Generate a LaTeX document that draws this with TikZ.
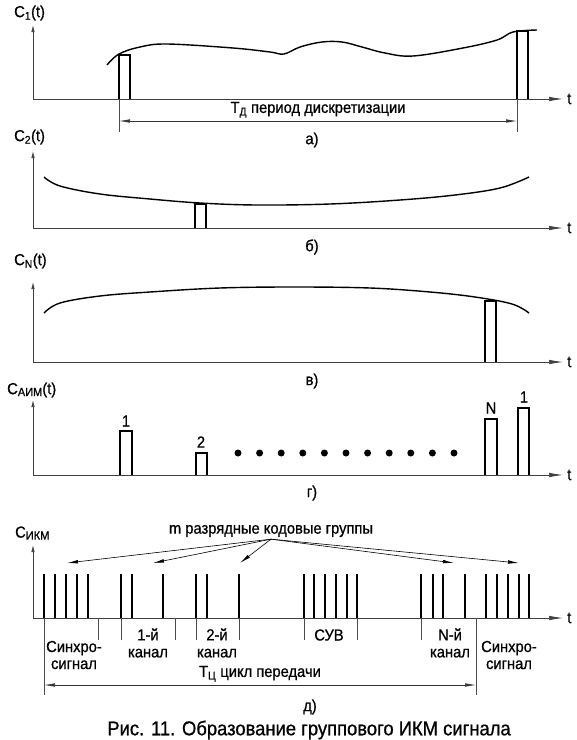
\documentclass[tikz,border=0pt]{standalone}
\usepackage{fontspec}
\setmainfont{Liberation Sans}[FakeStretch=0.92, FakeBold=0.8]
\usetikzlibrary{arrows.meta, positioning, calc}

\begin{document}
\begin{tikzpicture}[
        x=1pt, y=-1pt,
        axis/.style={draw=black!75, line width=0.7pt},
        tarrow/.style={-{Latex[length=14pt, width=4.5pt]}},
        carrow/.style={-{Latex[length=7pt, width=3.5pt]}},
        pulse/.style={draw=black, line width=1.4pt},
        bit/.style={draw=black, line width=1.5pt},
        curve/.style={draw=black, line width=1.4pt},
        dimline/.style={{Latex[length=11pt, width=3.5pt]}-{Latex[length=11pt, width=3.5pt]}, line width=0.6pt, draw=black!80},
        ext/.style={draw=black!70, line width=0.5pt},
        lbl/.style={font=\fontsize{16}{17}\selectfont, inner sep=0pt},
        twoline/.style={lbl, align=center},
        group/.style={-{Latex[length=11pt, width=3.5pt]}, line width=0.6pt},
        dotmark/.style={circle, fill=black, inner sep=0pt, minimum size=7pt}
    ]
        \useasboundingbox (0,0) rectangle (577,740);
        % a) first channel
        \coordinate (oa) at (33,99);
        \node[lbl, anchor=west] (ca) at (14,13) {C\textsubscript{1}(t)};
        \draw[axis, carrow] (oa) -- ++(0,-74);
        \draw[axis, tarrow] (oa) -- ++(530,0) coordinate (xa);
        \node[lbl, right=4pt of xa] (ta) {t};
        \draw[curve] plot[smooth, tension=0.6] coordinates {(107,65) (119,54) (140,47) (167,44) (233,48) (270,52) (284,54) (300,47) (322,42) (342,42) (362,47) (385,53) (413,56) (463,48) (497,40) (513,32) (537,30)};
        \draw[pulse] (119,99) -- (119,55) -- (130,55) -- (130,99);
        \draw[pulse] (517,99) -- (517,31) -- (528,31) -- (528,99);
        \coordinate (da1) at (119,121);
        \coordinate (da2) at (517,121);
        \draw[ext] (119,99) -- (119,132);
        \draw[ext] (517,99) -- (517,132);
        \draw[dimline] (da1) -- (da2) node[midway, above=3pt, lbl] (tdisc) {T\textsubscript{Д} период дискретизации};
        \node[lbl] (pa) at (312,140) {а)};
        % b) second channel
        \coordinate (ob) at (33,228);
        \node[lbl, anchor=west] (cb) at (14,137) {C\textsubscript{2}(t)};
        \draw[axis, carrow] (ob) -- ++(0,-77);
        \draw[axis, tarrow] (ob) -- ++(530,0) coordinate (xb);
        \node[lbl, right=4pt of xb] (tb) {t};
        \draw[curve] plot[smooth, tension=0.6] coordinates {(44,177) (60,186) (100,194) (150,199) (200,203) (257,205) (330,204) (400,200) (455,195) (500,188) (529,177)};
        \draw[pulse] (195,228) -- (195,204) -- (206,204) -- (206,228);
        \node[lbl] (pb) at (312,247) {б)};
        % c) N-th channel
        \coordinate (oc) at (33,362);
        \node[lbl, anchor=west] (cc) at (14,261) {C\textsubscript{N}(t)};
        \draw[axis, carrow] (oc) -- ++(0,-80);
        \draw[axis, tarrow] (oc) -- ++(530,0) coordinate (xc);
        \node[lbl, right=4pt of xc] (tc) {t};
        \draw[curve] plot[smooth, tension=0.6] coordinates {(44,313) (60,303) (100,296) (150,292) (220,288) (294,287) (370,288) (430,292) (475,297) (512,304) (529,313)};
        \draw[pulse] (485,362) -- (485,301) -- (496,301) -- (496,362);
        \node[lbl] (pc) at (312,381) {в)};
        % d) PAM group signal
        \coordinate (od) at (33,475);
        \node[lbl, anchor=west] (cd) at (7,390) {C\raisebox{-2pt}{\fontsize{12}{12}\selectfont АИМ}(t)};
        \draw[axis, carrow] (od) -- ++(0,-75);
        \draw[axis, tarrow] (od) -- ++(530,0) coordinate (xd);
        \node[lbl, right=4pt of xd] (td) {t};
        \draw[pulse] (120,475) -- (120,431) -- (132,431) -- (132,475);
        \node[lbl] (n1) at (126,421) {1};
        \draw[pulse] (196,475) -- (196,453) -- (207,453) -- (207,475);
        \node[lbl] (n2) at (201,442) {2};
        \draw[pulse] (485,475) -- (485,419) -- (497,419) -- (497,475);
        \node[lbl] (nN) at (491,408) {N};
        \draw[pulse] (518,475) -- (518,408) -- (529,408) -- (529,475);
        \node[lbl] (n1b) at (524,397) {1};
        \foreach \i in {0,...,10}
            \node[dotmark] (dot\i) at (238+21.6*\i,453) {};
        \node[lbl] (pd) at (312,493) {г)};
        % e) PCM group signal
        \coordinate (oe) at (33,618);
        \node[lbl, anchor=west] (ce) at (15,533) {С\raisebox{-2pt}{\fontsize{12}{12}\selectfont ИКМ}};
        \draw[axis, carrow] (oe) -- ++(0,-73);
        \draw[axis, tarrow] (oe) -- ++(530,0) coordinate (xe);
        \node[lbl, right=4pt of xe] (te) {t};
        \foreach \x in {44,55,66,77,88,121,132,163,196,207,239,304,314,325,336,347,357,421,433,443,465,486,497,508,519,529}
            \draw[bit] (\x,618) -- (\x,574);
        \foreach \x in {98,121,175,196,239,304,357,421}
            \draw[ext] (\x,618) -- (\x,640);
        \draw[ext] (44,618) -- (44,695);
        \draw[ext] (476,618) -- (476,695);
        \node[twoline] (sync1) at (74,655) {Синхро-\\сигнал};
        \node[twoline] (ch1) at (148,643) {1-й\\канал};
        \node[twoline] (ch2) at (217,643) {2-й\\канал};
        \node[lbl] (suv) at (329,635) {СУВ};
        \node[twoline] (chN) at (450,643) {N-й\\канал};
        \node[twoline] (sync2) at (509,655) {Синхро-\\сигнал};
        \coordinate (de1) at (44,685);
        \coordinate (de2) at (476,685);
        \draw[dimline] (de1) -- (de2) node[midway, above=3pt, lbl] (tcyc) {T\textsubscript{Ц} цикл передачи};
        \node[lbl] (groups) at (271,531) {m разрядные кодовые группы};
        \coordinate (g1) at (67,563);
        \coordinate (g2) at (153,563);
        \coordinate (g3) at (240,563);
        \coordinate (g4) at (454,563);
        \coordinate (g5) at (519,563);
        \draw[group] ([yshift=-2pt]groups.south) -- (g1);
        \draw[group] ([yshift=-2pt]groups.south) -- (g2);
        \draw[group] ([yshift=-2pt]groups.south) -- (g3);
        \draw[group] ([yshift=-2pt]groups.south) -- (g4);
        \draw[group] ([yshift=-2pt]groups.south) -- (g5);
        \node[lbl] (pe) at (310,707) {д)};
        \node[font=\fontsize{20}{22}\selectfont, inner sep=0pt] (caption) at (309,730) {Рис. 11. Образование группового ИКМ сигнала};
    \end{tikzpicture}
\end{document}
